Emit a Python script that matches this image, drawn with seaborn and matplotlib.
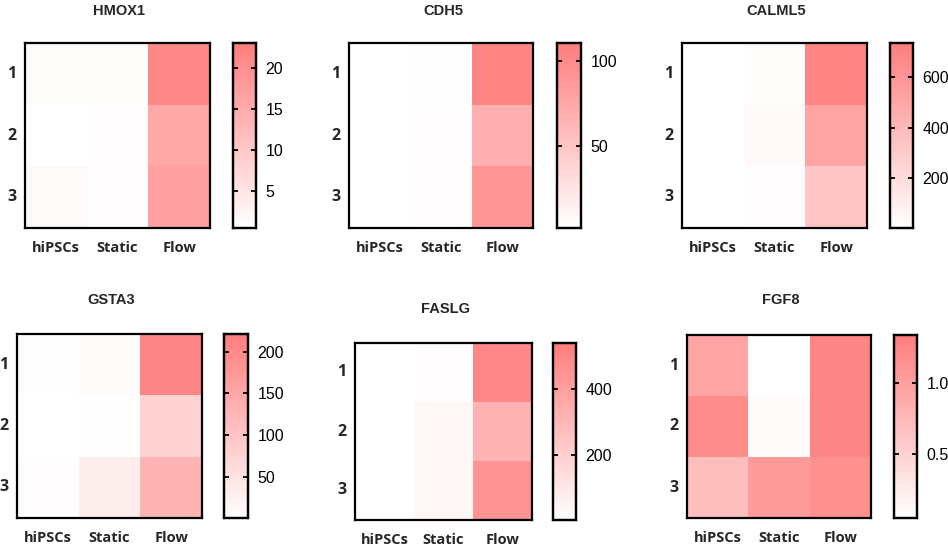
import numpy as np
import pandas as pd
import matplotlib.pyplot as plt
from matplotlib.colors import LinearSegmentedColormap
import seaborn as sns

# --- DATA ---
GROUPS = ['hiPSCs', 'Static', 'Flow']
REPLICATES = ['1', '2', '3']

GENES = ['HMOX1', 'CDH5', 'CALML5', 'GSTA3', 'FASLG', 'FGF8']

# rows = replicate 1..3, columns = hiPSCs, Static, Flow
HMOX1 = [[1.0, 1.0, 21.0],
         [0.4, 0.8, 15.5],
         [1.2, 0.7, 17.0]]
CDH5 = [[1.5, 2.0, 104.0],
        [1.5, 3.0, 68.0],
        [1.5, 3.0, 90.0]]
CALML5 = [[5.0, 22.0, 690.0],
          [5.0, 40.0, 520.0],
          [5.0, 15.0, 330.0]]
GSTA3 = [[2.0, 8.0, 205.0],
         [1.5, 2.0, 80.0],
         [4.0, 30.0, 128.0]]
FASLG = [[5.0, 12.0, 500.0],
         [5.0, 40.0, 320.0],
         [5.0, 40.0, 450.0]]
FGF8 = [[0.95, 0.05, 1.25],
        [1.20, 0.10, 1.25],
        [0.70, 1.05, 1.15]]

# colour scale range per gene
VMIN = [0.4, 1.4, 4.0, 1.0, 3.0, 0.05]
VMAX = [23.1, 110.6, 733.0, 221.0, 540.0, 1.34]
CBAR_TICKS = [[5, 10, 15, 20], [50, 100], [200, 400, 600],
              [50, 100, 150, 200], [200, 400], [0.5, 1.0]]
CBAR_LABELS = [['5', '10', '15', '20'], ['50', '100'], ['200', '400', '600'],
               ['50', '100', '150', '200'], ['200', '400'], ['0.5', '1.0']]

VALUES = [HMOX1, CDH5, CALML5, GSTA3, FASLG, FGF8]

# --- LAYOUT (pixels: heatmap x0, x1, y0, y1, colorbar x0, x1, title y) ---
W, H = 948, 546
PANELS = [
    (25, 210, 43, 228, 233, 256, 11),
    (349, 533, 43, 228, 557, 581, 11),
    (682, 867, 43, 228, 890, 913, 11),
    (17, 202, 334, 518, 224, 248, 300),
    (355, 532, 343, 520, 553, 576, 309),
    (687, 871, 335, 518, 894, 917, 300),
]

sns.set_theme(style='white')
plt.rcParams['font.family'] = ['Liberation Sans', 'DejaVu Sans']

cmap = LinearSegmentedColormap.from_list('wr', ['#FFFFFF', '#FF7D7D'])

fig = plt.figure(figsize=(W / 100, H / 100), dpi=100)
fig.patch.set_facecolor('white')

for gene, vals, vmin, vmax, ticks, tlabels, (x0, x1, y0, y1, cx0, cx1, ty) in zip(
        GENES, VALUES, VMIN, VMAX, CBAR_TICKS, CBAR_LABELS, PANELS):
    ax = fig.add_axes([x0 / W, 1 - y1 / H, (x1 - x0) / W, (y1 - y0) / H])
    cax = fig.add_axes([cx0 / W, 1 - y1 / H, (cx1 - cx0) / W, (y1 - y0) / H])

    df = pd.DataFrame(vals, index=REPLICATES, columns=GROUPS)
    sns.heatmap(df, ax=ax, cbar_ax=cax, cmap=cmap, vmin=vmin, vmax=vmax,
                cbar_kws={'ticks': ticks})

    # frame round the heatmap
    for sp in ax.spines.values():
        sp.set_visible(True)
        sp.set_color('black')
        sp.set_linewidth(1.6)
    ax.tick_params(axis='both', length=0)
    ax.tick_params(axis='x', pad=9)
    ax.tick_params(axis='y', pad=6)
    ax.set_xticklabels(GROUPS, rotation=0, fontsize=10.5, fontweight='bold',
                       family=['Open Sans', 'DejaVu Sans'])
    ax.set_yticklabels(REPLICATES, rotation=0, fontsize=11.5, fontweight='bold',
                       family=['Open Sans', 'DejaVu Sans'])

    fig.text((x0 + x1) / 2 / W + 2 / W, 1 - ty / H, gene, ha='center',
             va='center', fontsize=10.5, fontweight='bold')

    # colour bar styling: short inward ticks on both edges, drawn over the colours
    cax.set_axisbelow(False)
    cax.yaxis.set_ticks_position('both')
    cax.set_yticks(ticks)
    cax.set_yticklabels(tlabels)
    cax.tick_params(axis='y', which='major', direction='in', length=3.5,
                    width=1.3, left=True, right=True, labelleft=False,
                    labelright=True, labelsize=11.5, colors='black', pad=7)
    cax.tick_params(axis='y', which='minor', length=0)
    for sp in cax.spines.values():
        sp.set_visible(True)
        sp.set_color('black')
        sp.set_linewidth(1.6)
    cax.set_ylim(vmin, vmax)

fig.savefig('out.png', dpi=100)
